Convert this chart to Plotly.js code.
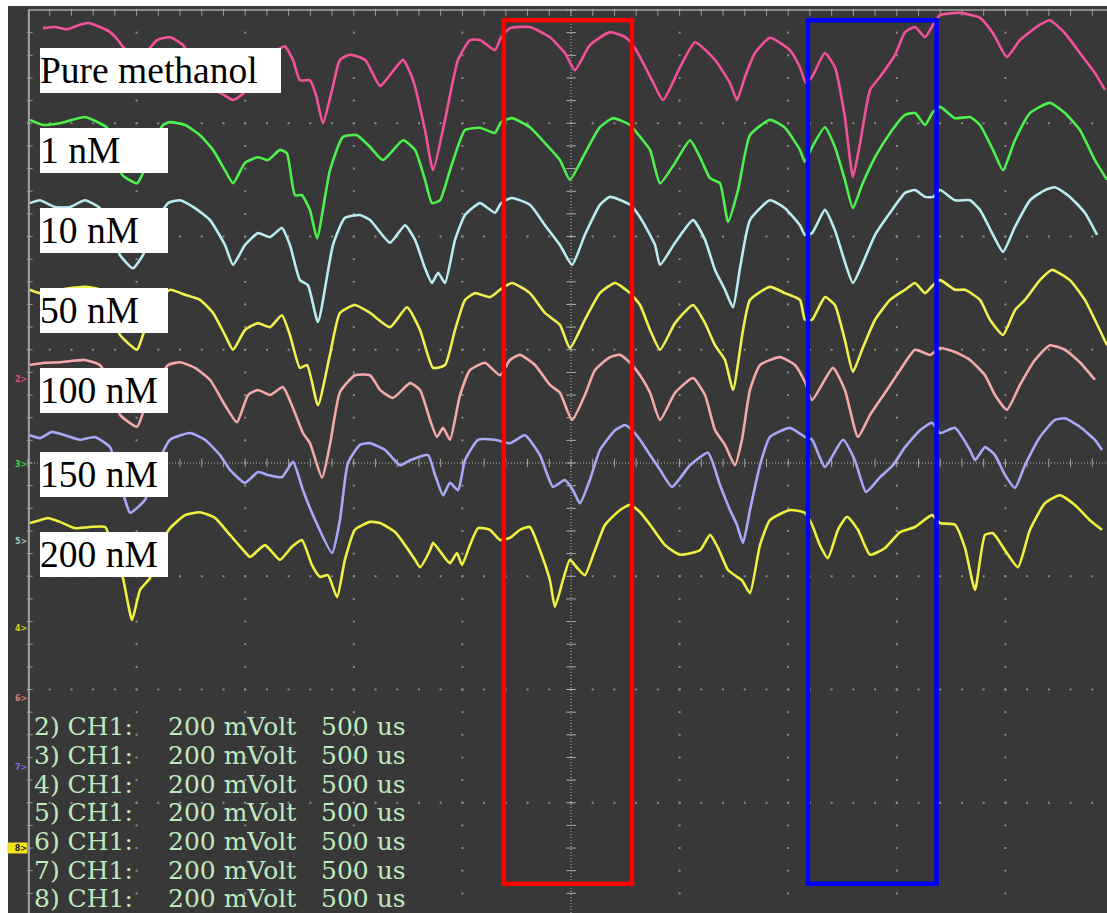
<!DOCTYPE html>
<html>
<head>
<meta charset="utf-8">
<script src="https://cdn.plot.ly/plotly-3.0.1.min.js"></script>
<style>html,body{margin:0;padding:0;background:#fff;}#chart{width:1107px;height:913px;}</style>
</head>
<body>
<div id="chart"></div>
<script>
// ---- data: time in microseconds (500 us/div), signal in mV (200 mV/div, shared screen offset) ----
const t_pm = [69,124,180,239,276,331,378,414,437,516,594,654,714,769,838,893,944,990,1068,1137,1165,1183,1220,1252,1298,1326,1358,1400,1436,1482,1552,1621,1676,1727,1773,1828,1865,1920,1980,2035,2081,2150,2178,2219,2311,2403,2472,2518,2587,2680,2749,2785,2818,2873,2924,3002,3071,3163,3232,3264,3301,3347,3416,3508,3554,3582,3610,3669,3715,3761,3798,3831,3877,3923,3992,4038,4084,4130,4167,4199,4291,4383,4443,4507,4567,4659,4705,4774,4843,4912,4958];
const v_pm = [768,770,766,774,777,770,761,747,735,715,747,752,738,703,662,652,641,652,694,726,733,736,712,676,676,650,600,659,712,721,712,666,690,712,676,588,517,606,712,747,747,729,752,768,770,752,724,694,738,761,752,738,717,676,641,699,743,712,671,641,682,724,751,729,699,671,682,724,699,611,505,565,659,682,721,761,770,752,774,791,795,786,759,717,747,774,782,759,724,689,659];

const t_1 = [9,69,147,262,331,364,401,433,502,529,585,622,654,723,792,852,907,944,999,1059,1105,1160,1192,1229,1261,1298,1331,1390,1450,1515,1575,1634,1727,1782,1828,1860,1897,1943,2012,2081,2150,2178,2228,2311,2380,2449,2495,2564,2633,2693,2772,2818,2864,2910,2979,3048,3094,3140,3186,3223,3269,3324,3416,3485,3554,3577,3610,3669,3715,3761,3798,3840,3900,3969,4038,4084,4130,4167,4199,4268,4337,4383,4443,4489,4544,4613,4705,4774,4843,4912,4968];
const v_1 = [606,597,600,611,600,592,553,509,494,512,570,597,602,597,579,553,517,494,530,540,535,553,547,473,473,447,397,517,576,579,558,535,570,553,500,459,464,517,588,592,583,602,609,593,565,535,500,547,593,609,597,576,553,494,530,570,540,503,494,426,482,579,606,592,553,532,558,593,558,500,450,491,540,583,615,618,597,620,629,609,611,597,553,517,570,618,636,618,588,535,500];

const t_10 = [9,55,124,193,262,331,378,424,483,529,585,645,700,769,838,907,944,999,1059,1114,1169,1206,1252,1289,1335,1404,1459,1528,1575,1667,1736,1782,1828,1860,1888,1920,1966,2012,2081,2150,2178,2228,2311,2380,2449,2505,2564,2633,2680,2772,2818,2887,2910,2979,3062,3117,3163,3209,3246,3278,3324,3416,3485,3554,3577,3610,3669,3715,3761,3798,3840,3900,3969,4038,4084,4130,4167,4199,4268,4337,4383,4443,4489,4544,4613,4682,4728,4797,4866,4922];
const v_10 = [459,464,452,452,464,450,411,367,344,367,420,459,464,450,429,385,350,385,406,399,415,385,323,314,249,385,433,438,429,389,420,394,344,318,336,318,394,438,459,442,459,468,456,420,385,350,403,456,470,456,434,385,350,389,429,394,341,306,275,344,429,464,450,420,403,406,447,411,355,318,350,403,442,477,482,470,470,482,464,464,447,403,373,417,464,482,487,470,442,403];

const t_50 = [9,55,147,262,331,378,424,502,529,585,654,723,792,852,907,944,999,1059,1114,1169,1206,1252,1285,1335,1390,1436,1505,1575,1667,1745,1805,1865,1920,1966,2012,2058,2127,2173,2228,2311,2380,2449,2495,2564,2633,2703,2772,2818,2864,2910,2979,3062,3117,3163,3209,3246,3292,3324,3416,3485,3554,3577,3610,3669,3715,3761,3798,3840,3900,3969,4038,4084,4130,4167,4199,4268,4314,4383,4429,4489,4544,4590,4659,4714,4797,4866,4912,4968];
const v_50 = [306,300,306,311,306,270,226,200,226,279,306,297,288,265,226,200,235,247,240,261,226,168,173,102,191,265,279,265,240,275,235,168,173,235,288,300,293,306,318,300,265,244,203,253,300,318,300,279,235,200,247,279,247,208,182,129,235,288,311,300,288,253,253,293,279,217,161,200,253,288,306,318,300,314,323,306,306,288,253,226,270,288,323,341,323,288,253,208];

const t_100 = [9,78,147,262,331,378,424,502,529,585,645,700,769,838,907,962,1013,1059,1114,1174,1220,1266,1298,1354,1390,1436,1505,1575,1621,1680,1759,1805,1851,1883,1911,1943,1989,2035,2104,2173,2219,2265,2334,2403,2449,2505,2564,2610,2680,2726,2772,2818,2864,2910,2979,3062,3117,3163,3209,3255,3287,3324,3370,3462,3531,3577,3610,3706,3761,3821,3877,3946,4015,4084,4153,4199,4268,4337,4406,4452,4507,4567,4636,4705,4774,4843,4912];
const v_100 = [173,177,178,182,173,138,85,64,88,138,173,178,168,147,102,72,120,129,120,134,97,53,35,-26,32,125,155,155,129,115,141,129,76,46,62,41,120,164,177,155,182,191,173,138,124,76,120,164,187,191,177,155,124,76,124,150,120,58,32,-4,41,129,173,187,173,143,111,168,129,46,85,124,164,200,191,203,196,182,155,120,94,138,182,208,200,178,147];

const t_150 = [9,55,110,170,239,308,378,414,447,470,539,594,654,746,815,884,930,999,1059,1105,1169,1220,1266,1312,1400,1436,1473,1528,1575,1644,1713,1759,1842,1874,1911,1943,1980,2012,2072,2150,2219,2288,2357,2417,2472,2509,2541,2587,2633,2703,2749,2781,2818,2864,2910,2965,3048,3131,3186,3232,3264,3292,3324,3370,3416,3508,3577,3610,3669,3752,3807,3858,3923,3982,4038,4107,4162,4199,4268,4337,4360,4406,4452,4498,4544,4590,4659,4728,4774,4843,4912,4945];
const v_150 = [49,44,55,49,41,46,28,-21,-65,-88,-65,-4,41,53,41,14,-12,-35,-16,-21,-25,2,-48,-92,-159,-101,0,32,35,23,-4,5,14,-21,-57,-35,-48,5,41,41,35,49,14,-42,-30,-48,-71,-30,23,58,67,58,41,14,-12,-42,-4,18,-39,-83,-109,-141,-83,-4,46,62,46,41,-7,41,5,-51,-25,-4,28,58,71,53,62,23,5,28,14,-21,-44,-4,46,76,79,64,41,23];

const t_200 = [9,55,92,147,216,285,355,401,437,479,516,562,608,654,723,792,861,930,999,1022,1091,1160,1215,1261,1307,1344,1381,1423,1459,1505,1575,1621,1690,1736,1782,1805,1851,1865,1920,1943,1975,1998,2035,2072,2127,2173,2219,2265,2311,2357,2403,2426,2463,2495,2528,2564,2610,2657,2726,2772,2818,2864,2933,3002,3094,3140,3177,3223,3264,3287,3324,3370,3416,3508,3577,3610,3646,3683,3729,3771,3821,3877,3946,4015,4084,4162,4199,4268,4314,4360,4406,4443,4498,4558,4613,4682,4751,4820,4889,4945];
const v_200 = [-106,-101,-97,-104,-115,-113,-113,-162,-203,-277,-224,-203,-145,-115,-92,-87,-97,-127,-157,-166,-145,-171,-148,-136,-180,-201,-198,-237,-171,-118,-104,-106,-122,-145,-171,-184,-154,-141,-168,-177,-159,-180,-145,-115,-118,-136,-132,-118,-113,-154,-207,-254,-207,-171,-185,-198,-154,-109,-83,-74,-87,-109,-145,-162,-154,-127,-150,-189,-201,-207,-230,-145,-101,-83,-88,-109,-145,-168,-118,-95,-118,-162,-150,-122,-113,-92,-106,-109,-150,-224,-127,-124,-154,-184,-118,-71,-57,-74,-101,-118];

const seriesLabels = ['Pure methanol','1 nM','10 nM','50 nM','100 nM','150 nM','200 nM'];
const seriesColors = ['#f2529c','#4ef04e','#b8ecf0','#f0f050','#f4a8a8','#a8a8f8','#f0f040'];
const seriesT = [t_pm,t_1,t_10,t_50,t_100,t_150,t_200];
const seriesV = [v_pm,v_1,v_10,v_50,v_100,v_150,v_200];
const labelTop = [733,592,450,309,168,19,-122];   // mV position of label box top
const channelNames = ['2) CH1:','3) CH1:','4) CH1:','5) CH1:','6) CH1:','7) CH1:','8) CH1:'];
const voltText = '200 mVolt';
const timeText = '500 us';
const markerText = ['2>','3>','5>','4>','6>','7>','8>'];
const markerV = [148,-2,-138,-293,-415,-537,-680];
const markerColor = ['#e04a88','#3fd23f','#9cc6c6','#d4d41c','#e07878','#7676e6','#222222'];

// ---- screen geometry (oscilloscope grid) ----
const T_DIV = 500, V_DIV = 200, NX = 10, NY = 8, MINOR = 5;
const T_MAX = T_DIV*NX, V_MAX = V_DIV*NY/2;
const XR = [-92.1, 4967.8], YR = [-794.7, 807.1];

const traces = [];
const gx = [], gy = [];
for (let i = 1; i <= NX; i++) {
  if (i === NX/2) continue;
  for (let j = 0; j <= NY*MINOR; j++) { gx.push(i*T_DIV); gy.push(-V_MAX + j*V_DIV/MINOR); }
}
for (let k = 0; k < NY; k++) {
  if (k === NY/2) continue;
  for (let j = 0; j <= NX*MINOR; j++) { gx.push(j*T_DIV/MINOR); gy.push(-V_MAX + k*V_DIV); }
}
traces.push({x:gx, y:gy, mode:'markers', type:'scatter', hoverinfo:'skip',
  marker:{symbol:'square', size:2, color:'#8e8e8e', line:{width:0}}});
const cxT = [], cyT = [], hxT = [], hyT = [];
for (let j = 0; j <= NY*MINOR; j++) { cxT.push(T_MAX/2); cyT.push(-V_MAX + j*V_DIV/MINOR); }
for (let j = 0; j <= NX*MINOR; j++) { hxT.push(j*T_DIV/MINOR); hyT.push(0); }
traces.push({x:cxT, y:cyT, mode:'markers', type:'scatter', hoverinfo:'skip',
  marker:{symbol:'line-ew', size:7, line:{width:1, color:'#a8a8a8'}}});
traces.push({x:hxT, y:hyT, mode:'markers', type:'scatter', hoverinfo:'skip',
  marker:{symbol:'line-ns', size:6, line:{width:1, color:'#a8a8a8'}}});
const tbx = [], tby = [], lbx = [], lby = [];
for (let j = 1; j <= NX*MINOR; j++) { tbx.push(j*T_DIV/MINOR); tby.push(V_MAX - 4); }
for (let j = 0; j < NY*MINOR; j++) { lbx.push(8); lby.push(-V_MAX + j*V_DIV/MINOR); }
traces.push({x:tbx, y:tby, mode:'markers', type:'scatter', hoverinfo:'skip',
  marker:{symbol:'line-ns', size:5, line:{width:1, color:'#a0a0a0'}}});
traces.push({x:lbx, y:lby, mode:'markers', type:'scatter', hoverinfo:'skip',
  marker:{symbol:'line-ew', size:4, line:{width:1, color:'#a0a0a0'}}});

for (let s = 0; s < seriesT.length; s++) {
  traces.push({x:seriesT[s], y:seriesV[s], name:seriesLabels[s], type:'scatter', mode:'lines',
    line:{color:seriesColors[s], width:2.6, shape:'spline', smoothing:0.5}, hoverinfo:'skip'});
}

const shapes = [
  {type:'line', xref:'x', yref:'y', x0:T_MAX/2, x1:T_MAX/2, y0:YR[0], y1:V_MAX, line:{color:'#b4b4b4', width:1, dash:'1px,2px'}, layer:'below'},
  {type:'line', xref:'x', yref:'y', x0:0, x1:XR[1], y0:0, y1:0, line:{color:'#b4b4b4', width:1, dash:'1px,2px'}, layer:'below'},
  {type:'line', xref:'x', yref:'y', x0:0, x1:XR[1], y0:V_MAX, y1:V_MAX, line:{color:'#a4a4a4', width:1.5}, layer:'below'},
  {type:'line', xref:'x', yref:'y', x0:4, x1:4, y0:YR[0], y1:V_MAX, line:{color:'#a4a4a4', width:2}, layer:'below'},
  {type:'rect', xref:'x', yref:'y', x0:2191, x1:2781, y0:-743, y1:782, line:{color:'#ff0000', width:4.5}, fillcolor:'rgba(0,0,0,0)', layer:'above'},
  {type:'rect', xref:'x', yref:'y', x0:3591, x1:4183, y0:-743, y1:782, line:{color:'#0000ff', width:4.5}, fillcolor:'rgba(0,0,0,0)', layer:'above'}
];

const annotations = [];
for (let s = 0; s < seriesLabels.length; s++) {
  annotations.push({x:55, y:labelTop[s], xref:'x', yref:'y', xanchor:'left', yanchor:'top',
    text:seriesLabels[s], showarrow:false, bgcolor:'#ffffff', borderpad:0, borderwidth:0,
    width:(s === 0 ? 241 : 128), height:45, align:'left', valign:'middle',
    font:{family:'Liberation Serif, Times New Roman, serif', size:37.5, color:'#000000'}});
}
const rowV0 = -466, rowStep = -50.6;
const txtFont = {family:'DejaVu Serif, serif', size:25, color:'#bfeabf'};
for (let r = 0; r < channelNames.length; r++) {
  const yv = rowV0 + r*rowStep;
  annotations.push({x:23, y:yv, xref:'x', yref:'y', xanchor:'left', yanchor:'middle', text:channelNames[r], showarrow:false, borderpad:0, font:txtFont});
  annotations.push({x:640, y:yv, xref:'x', yref:'y', xanchor:'left', yanchor:'middle', text:voltText, showarrow:false, borderpad:0, font:txtFont});
  annotations.push({x:1344, y:yv, xref:'x', yref:'y', xanchor:'left', yanchor:'middle', text:timeText, showarrow:false, borderpad:0, font:txtFont});
}
for (let m = 0; m < markerText.length; m++) {
  const last = (m === markerText.length - 1);
  annotations.push({x:-2, y:markerV[m], xref:'x', yref:'y', xanchor:'right', yanchor:'middle',
    text:'<b>'+markerText[m]+'</b>', showarrow:false, borderpad:0,
    bgcolor:last ? '#f2e21a' : 'rgba(0,0,0,0)', width:last ? 19 : null, height:last ? 10 : null,
    align:'right', font:{family:'DejaVu Sans, sans-serif', size:8, color:markerColor[m]}});
}

const layout = {
  width:1107, height:913, margin:{l:8, r:0, t:6, b:0, pad:0},
  paper_bgcolor:'#ffffff', plot_bgcolor:'#383838', showlegend:false,
  xaxis:{range:XR, visible:false, fixedrange:true},
  yaxis:{range:YR, visible:false, fixedrange:true},
  shapes:shapes, annotations:annotations
};
Plotly.newPlot('chart', traces, layout, {displayModeBar:false, staticPlot:true});
</script>
</body>
</html>
